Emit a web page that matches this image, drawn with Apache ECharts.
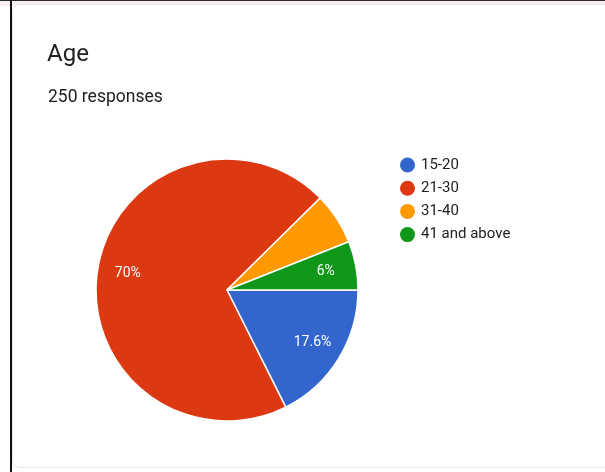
<!DOCTYPE html>
<html>
<head>
<meta charset="utf-8">
<script src="https://cdn.jsdelivr.net/npm/echarts@6/dist/echarts.min.js"></script>
<style>
  html, body { margin: 0; padding: 0; background: #ffffff; }
  #strip {
    position: absolute; left: 0; top: 0; width: 605px; height: 6px;
    background: #f6eeef; border-top: 1px solid #2a2a2a; box-sizing: border-box;
  }
  #edge { position: absolute; left: 10px; top: 0; width: 2px; height: 472px; background: #111; }
  #card {
    position: absolute; left: 12px; top: 4px; width: 600px; height: 464px;
    background: #fff; border: 1px solid #e8e8e8; border-radius: 8px; box-sizing: border-box;
  }
  #chart { position: absolute; left: 0; top: 0; width: 605px; height: 472px; }
</style>
</head>
<body>
<div id="strip"></div>
<div id="card"></div>
<div id="edge"></div>
<div id="chart"></div>
<script>
// Age groups and response counts (250 responses)
const categories = ['15-20', '21-30', '31-40', '41 and above'];
const counts = [44, 175, 16, 15];
const colors = ['#3366cc', '#dc3912', '#ff9900', '#109618'];
const hiddenLabels = ['31-40'];

const total = counts.reduce((a, b) => a + b, 0);
const pct = v => parseFloat((v * 100 / total).toFixed(1)) + '%';

const slices = categories.map((name, i) => ({
  name: name,
  value: counts[i],
  itemStyle: { color: colors[i] }
}));

// Transparent ring on top of the pie, only used to place the percentage labels
const labelSlices = categories.map((name, i) => ({
  name: name,
  value: counts[i],
  label: { show: hiddenLabels.indexOf(name) < 0 }
}));

const chart = echarts.init(document.getElementById('chart'), null, { renderer: 'canvas' });
chart.setOption({
  backgroundColor: 'transparent',
  animation: false,
  textStyle: { fontFamily: 'Roboto' },
  title: [
    { text: 'Age', left: 42, top: 38, textStyle: { fontSize: 24, fontWeight: 'normal', color: '#202124', fontFamily: 'Roboto' } },
    { text: '250 responses', left: 43, top: 84, textStyle: { fontSize: 17.5, fontWeight: 'normal', color: '#202124', fontFamily: 'Roboto' } }
  ],
  legend: {
    orient: 'vertical',
    left: 395,
    top: 152,
    icon: 'circle',
    itemWidth: 15,
    itemHeight: 15,
    itemGap: 7.2,
    data: categories,
    itemStyle: { borderWidth: 0 },
    textStyle: { fontSize: 15, lineHeight: 16, color: '#202124', fontFamily: 'Roboto', padding: [0, 0, 0, 1] }
  },
  series: [
    {
      type: 'pie',
      center: [227, 290],
      radius: 131,
      startAngle: 0,
      clockwise: true,
      data: slices,
      label: { show: false },
      labelLine: { show: false },
      itemStyle: { borderColor: '#ffffff', borderWidth: 1.5 },
      emphasis: { disabled: true }
    },
    {
      type: 'pie',
      center: [227, 290],
      radius: [64, 131],
      startAngle: 0,
      clockwise: true,
      silent: true,
      legendHoverLink: false,
      data: labelSlices,
      itemStyle: { color: 'rgba(0,0,0,0)' },
      label: {
        position: 'inside',
        formatter: p => pct(p.value),
        color: '#ffffff',
        fontSize: 14,
        fontFamily: 'Roboto'
      },
      labelLine: { show: false },
      emphasis: { disabled: true }
    }
  ]
});
</script>
</body>
</html>
